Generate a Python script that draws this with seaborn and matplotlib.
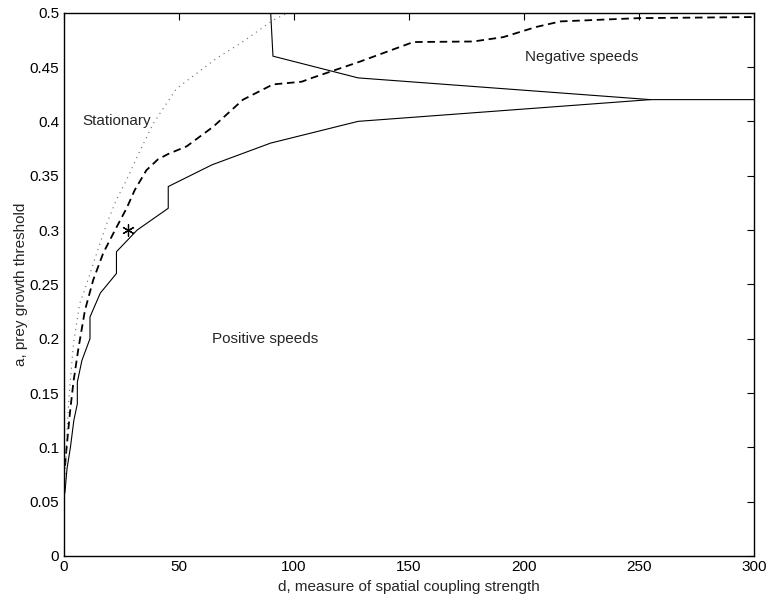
import matplotlib
matplotlib.use("Agg")
import matplotlib.pyplot as plt
import seaborn as sns
import pandas as pd

# Boundary of the positive-speed region (lower branch, then upper branch)
lower_d = [0.6, 1.5, 3, 4.5, 6, 6, 8, 11.5, 11.5, 16, 23, 23, 32, 45.5, 45.5,
           64.5, 90, 128, 255, 300]
lower_a = [0.058, 0.08, 0.10, 0.125, 0.14, 0.16, 0.18, 0.20, 0.22, 0.242, 0.26,
           0.28, 0.30, 0.32, 0.34, 0.36, 0.38, 0.40, 0.42, 0.42]

upper_d = [90, 91, 128, 255]
upper_a = [0.50, 0.46, 0.44, 0.42]

# Dashed boundary
dash_d = [0.65, 1.4, 2.8, 4.3, 6.4, 9.3, 12.9, 17.3, 22.4, 27.4, 31, 36, 41,
          45.5, 53.5, 65, 78, 91, 103.5, 108, 128.8, 152, 178, 191, 205.6,
          216, 250, 300]
dash_a = [0.083, 0.101, 0.132, 0.16, 0.19, 0.226, 0.254, 0.279, 0.30, 0.32,
          0.337, 0.355, 0.365, 0.37, 0.377, 0.395, 0.42, 0.434, 0.4365, 0.44,
          0.455, 0.473, 0.4735, 0.4775, 0.487, 0.492, 0.495, 0.496]

# Dotted boundary of the stationary region
dot_d = [0.5, 1.4, 2.5, 4.3, 7, 10, 14, 18.8, 23, 27.4, 33, 39, 49, 66.5, 77,
         85, 91, 97.5]
dot_a = [0.06, 0.11, 0.15, 0.195, 0.232, 0.25, 0.276, 0.306, 0.328, 0.346,
         0.372, 0.398, 0.43, 0.458, 0.472, 0.484, 0.493, 0.50]

# Marked parameter point
star_d = [28]
star_a = [0.30]

x_ticks = [0, 50, 100, 150, 200, 250, 300]
y_ticks = [0, 0.05, 0.1, 0.15, 0.2, 0.25, 0.3, 0.35, 0.4, 0.45, 0.5]
y_tick_labels = ["0", "0.05", "0.1", "0.15", "0.2", "0.25", "0.3", "0.35",
                 "0.4", "0.45", "0.5"]

sns.set_style("white")
plt.rcParams["font.family"] = ["Liberation Sans", "DejaVu Sans"]
plt.rcParams["font.size"] = 11

fig = plt.figure(figsize=(7.68, 5.99), dpi=100)
ax = fig.add_axes([0.0827, 0.0718, 0.8991, 0.9070])

common = dict(ax=ax, sort=False, estimator=None, color="black", legend=False)
sns.lineplot(data=pd.DataFrame({"d": lower_d, "a": lower_a}), x="d", y="a",
             linewidth=0.8, **common)
sns.lineplot(data=pd.DataFrame({"d": upper_d, "a": upper_a}), x="d", y="a",
             linewidth=0.8, **common)
sns.lineplot(data=pd.DataFrame({"d": dash_d, "a": dash_a}), x="d", y="a",
             linewidth=1.3, **common)
ax.lines[-1].set_linestyle((0, (4.2, 2.6)))
sns.lineplot(data=pd.DataFrame({"d": dot_d, "a": dot_a}), x="d", y="a",
             linewidth=0.8, **{**common, "color": "0.4"})
ax.lines[-1].set_linestyle((0, (1, 4)))

sns.scatterplot(x=star_d, y=star_a, ax=ax, marker=(6, 2, 0), s=70,
                color="black", linewidth=0.9, edgecolor="black", legend=False)

ax.text(8.3, 0.400, "Stationary", ha="left", va="center", fontsize=11)
ax.text(200.4, 0.459, "Negative speeds", ha="left", va="center", fontsize=11)
ax.text(64.4, 0.200, "Positive speeds", ha="left", va="center", fontsize=11)

ax.set_xlim(0, 300)
ax.set_ylim(0, 0.5)
ax.set_xticks(x_ticks)
ax.set_xticklabels([str(t) for t in x_ticks])
ax.set_yticks(y_ticks)
ax.set_yticklabels(y_tick_labels)
ax.tick_params(direction="in", top=True, right=True, length=5, width=0.8,
               labelsize=11, pad=3, colors="black")
for s in ax.spines.values():
    s.set_visible(True)
    s.set_color("black")
    s.set_linewidth(1.0)

ax.set_xlabel("d, measure of spatial coupling strength", fontsize=11,
              labelpad=4)
ax.set_ylabel("a, prey growth threshold", fontsize=11, labelpad=1)

fig.savefig("out.png", dpi=100, facecolor="white")
